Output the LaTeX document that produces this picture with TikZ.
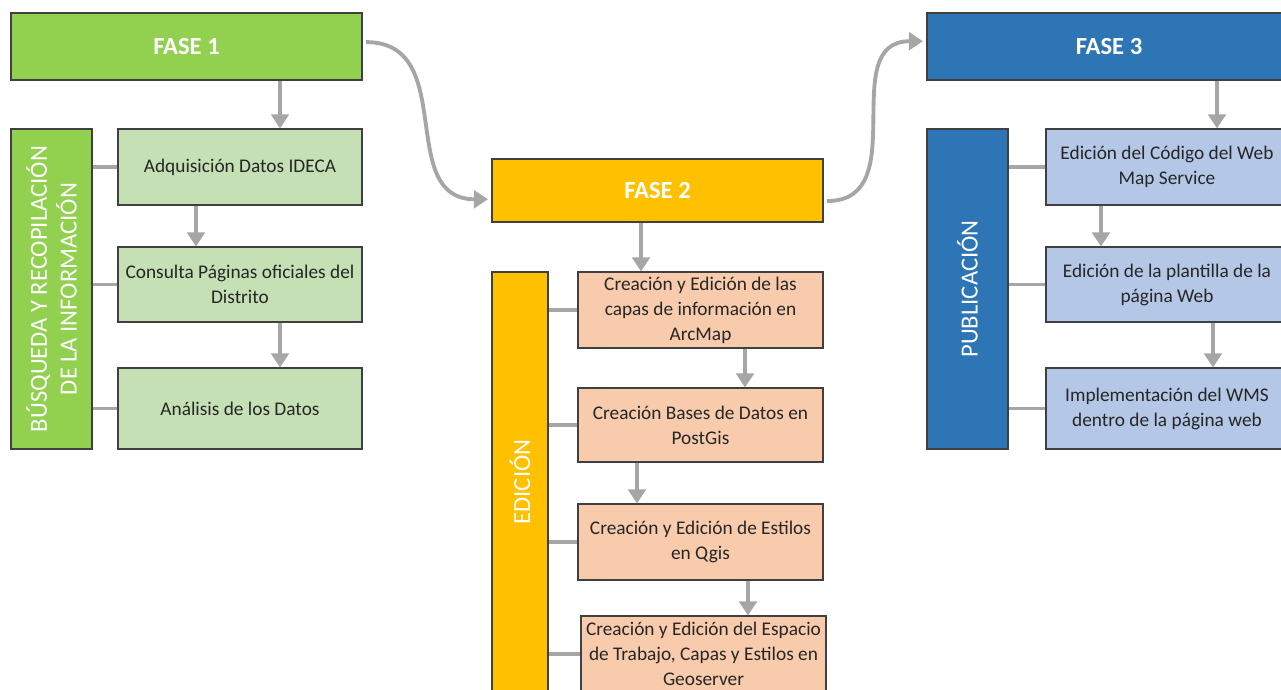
\documentclass[tikz,border=0pt]{standalone}
\usepackage{fontspec}
\setmainfont{Carlito}
\usetikzlibrary{arrows.meta}
\definecolor{verde}{HTML}{92D050}
\definecolor{verdeclaro}{HTML}{C5E0B4}
\definecolor{oro}{HTML}{FFC000}
\definecolor{salmon}{HTML}{F8CBAD}
\definecolor{azul}{HTML}{2E75B6}
\definecolor{azulclaro}{HTML}{B4C7E7}
\definecolor{gris}{HTML}{A6A6A6}
\begin{document}
\begin{tikzpicture}[
  caja/.style={draw=black!75, line width=0.6pt, text=black!85, align=center, inner sep=2pt,
    font=\fontsize{11}{14.2}\selectfont},
  fase/.style={draw=black!75, line width=0.6pt, text=white, inner sep=0pt,
    font=\fontsize{14}{16}\selectfont\bfseries},
  barra/.style={draw=black!75, line width=0.6pt, text=white, align=center, rotate=90, inner sep=0pt,
    font=\fontsize{14}{17}\selectfont},
  flecha/.style={draw=gris, line width=2.2pt, -{Triangle[width=10pt,length=8pt]}},
  linea/.style={draw=gris, line width=1.8pt}]
\path[use as bounding box, clip] (0,0) rectangle (25.62,-13.8);
\node[fase, fill=verde, minimum width=7.02cm, minimum height=1.34cm] (fase1) at (3.73, -0.93) {FASE 1};
\node[barra, fill=verde, minimum width=6.4cm, minimum height=1.62cm] (busq) at (1.03, -5.78) {BÚSQUEDA Y RECOPILACIÓN\\DE LA INFORMACIÓN};
\node[caja, fill=verdeclaro, minimum width=4.88cm, minimum height=1.52cm] (adq) at (4.8, -3.34) {Adquisición Datos IDECA};
\node[caja, fill=verdeclaro, minimum width=4.88cm, minimum height=1.5cm] (consulta) at (4.8, -5.69) {Consulta Páginas oficiales del\\Distrito};
\node[caja, fill=verdeclaro, minimum width=4.88cm, minimum height=1.62cm] (analisis) at (4.8, -8.17) {Análisis de los Datos};
\draw[flecha] (fase1.south -| 5.6,0) -- (adq.north -| 5.6,0);
\draw[flecha] (adq.south -| 3.92,0) -- (consulta.north -| 3.92,0);
\draw[flecha] (consulta.south -| 5.6,0) -- (analisis.north -| 5.6,0);
\draw[linea] (adq.west) -- (adq.west -| busq.south);
\draw[linea] (consulta.west) -- (consulta.west -| busq.south);
\draw[linea] (analisis.west) -- (analisis.west -| busq.south);

\node[fase, fill=oro, minimum width=6.62cm, minimum height=1.26cm] (fase2) at (13.15, -3.81) {FASE 2};
\node[barra, fill=oro, minimum width=8.4cm, minimum height=1.12cm] (edicion) at (10.4, -9.64) {EDICIÓN};
\node[caja, fill=salmon, minimum width=4.9cm, minimum height=1.52cm] (capas) at (14.01, -6.2) {Creación y Edición de las\\capas de información en\\ArcMap};
\node[caja, fill=salmon, minimum width=4.9cm, minimum height=1.48cm] (bases) at (14.01, -8.5) {Creación Bases de Datos en\\PostGis};
\node[caja, fill=salmon, minimum width=4.9cm, minimum height=1.52cm] (estilos) at (14.01, -10.84) {Creación y Edición de Estilos\\en Qgis};
\node[caja, fill=salmon, minimum width=4.9cm, minimum height=1.52cm] (espacio) at (14.07, -13.08) {Creación y Edición del Espacio\\de Trabajo, Capas y Estilos en\\Geoserver};
\draw[flecha] (fase2.south -| 12.82,0) -- (capas.north -| 12.82,0);
\draw[flecha] (capas.south -| 14.9,0) -- (bases.north -| 14.9,0);
\draw[flecha] (bases.south -| 12.74,0) -- (estilos.north -| 12.74,0);
\draw[flecha] (estilos.south -| 14.96,0) -- (espacio.north -| 14.96,0);
\draw[linea] (capas.west) -- (capas.west -| edicion.south);
\draw[linea] (bases.west) -- (bases.west -| edicion.south);
\draw[linea] (estilos.west) -- (estilos.west -| edicion.south);
\draw[linea] (espacio.west) -- (espacio.west -| edicion.south);

\node[fase, fill=azul, minimum width=7.28cm, minimum height=1.34cm] (fase3) at (22.18, -0.93) {FASE 3};
\node[barra, fill=azul, minimum width=6.4cm, minimum height=1.62cm] (publ) at (19.35, -5.78) {PUBLICACIÓN};
\node[caja, fill=azulclaro, minimum width=4.84cm, minimum height=1.52cm] (codigo) at (23.34, -3.34) {Edición del Código del Web\\Map Service};
\node[caja, fill=azulclaro, minimum width=4.84cm, minimum height=1.5cm] (plantilla) at (23.34, -5.69) {Edición de la plantilla de la\\página Web};
\node[caja, fill=azulclaro, minimum width=4.84cm, minimum height=1.62cm] (wms) at (23.34, -8.17) {Implementación del WMS\\dentro de la página web};
\draw[flecha] (fase3.south -| 24.34,0) -- (codigo.north -| 24.34,0);
\draw[flecha] (codigo.south -| 22.02,0) -- (plantilla.north -| 22.02,0);
\draw[flecha] (plantilla.south -| 24.26,0) -- (wms.north -| 24.26,0);
\draw[linea] (codigo.west) -- (codigo.west -| publ.south);
\draw[linea] (plantilla.west) -- (plantilla.west -| publ.south);
\draw[linea] (wms.west) -- (wms.west -| publ.south);

\draw[flecha] ([xshift=2pt, yshift=2.5pt]fase1.east) to[out=0, in=180, looseness=1.2] ([xshift=-2pt, yshift=-5pt]fase2.west);
\draw[flecha] ([xshift=2pt, yshift=-6pt]fase2.east) to[out=0, in=180, looseness=1.2] ([xshift=-2pt, yshift=3pt]fase3.west);
\end{tikzpicture}
\end{document}
